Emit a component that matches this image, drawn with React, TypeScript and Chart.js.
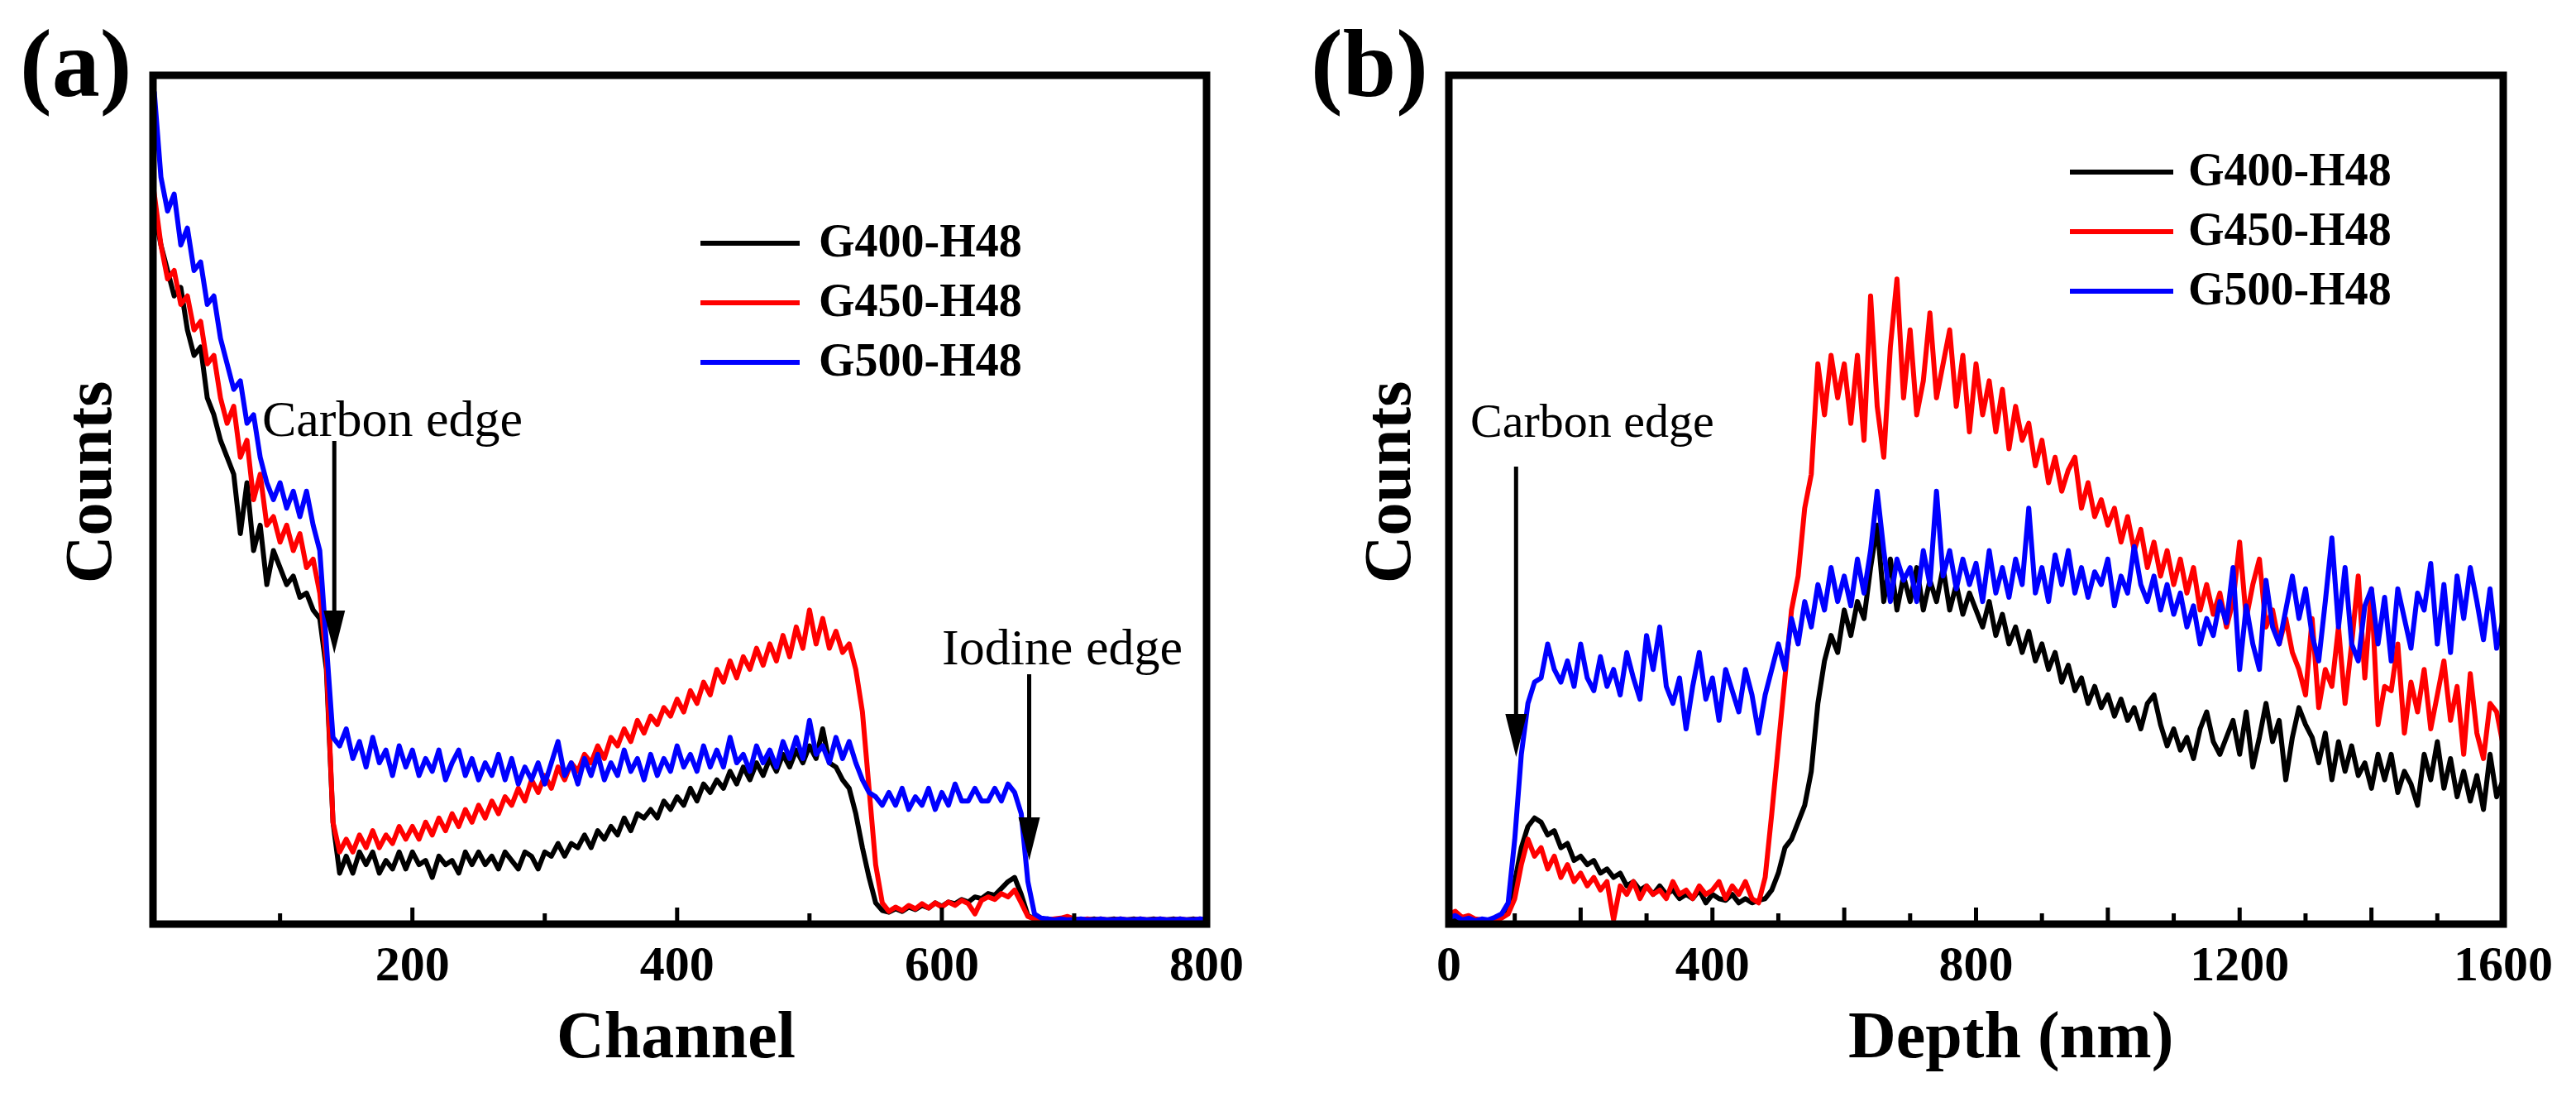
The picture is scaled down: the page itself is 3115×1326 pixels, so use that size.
import React, { useEffect, useRef } from 'react';
import { Chart, registerables } from 'chart.js';

Chart.register(...registerables);

// ---------------- data ----------------
const seriesNames = ['G400-H48', 'G450-H48', 'G500-H48'];
const seriesColors = ['#000000', '#ff0000', '#0000ff'];

// panel (a): channel 0..800, step 5
const channels = Array.from({ length: 161 }, (_, i) => i * 5);

const aG400 = [
  86, 84, 80, 77, 74, 75, 70, 67, 68, 62,
  60, 57, 55, 53, 46, 52, 44, 47, 40, 44,
  42, 40, 41, 38.5, 39, 37, 36, 30, 12, 6,
  8, 6, 8.5, 7, 8.5, 6, 7.5, 6.5, 8.5, 6.5,
  8.5, 7, 7.5, 5.5, 8, 7, 7.5, 6, 8.5, 7,
  8.5, 7, 8, 6.5, 8.5, 7.5, 6.5, 8.5, 8, 6.5,
  8.5, 8, 9.5, 8, 9.5, 9, 10.5, 9, 11, 10,
  11.5, 10.5, 12.5, 11, 13, 12.5, 13.5, 12.5, 14.5, 13.5,
  15, 14, 16, 14.5, 16.5, 15.5, 17, 16, 18, 16.5,
  18.5, 17, 19, 17.5, 19.5, 18, 20, 18.5, 20.5, 19,
  21, 19.5, 23, 19, 18.5, 17, 16, 13, 9, 5.5,
  2.5, 1.6, 1.4, 1.8, 1.5, 2, 1.7, 2.2, 1.9, 2.5,
  2.1, 2.6, 2.4, 2.9, 2.6, 3.2, 3, 3.6, 3.4, 4.2,
  5, 5.5, 3.5, 1, 0.6, 0.5, 0.6, 0.5, 0.6, 0.5,
  0.6, 0.5, 0.5, 0.6, 0.5, 0.5, 0.6, 0.5, 0.5, 0.6,
  0.5, 0.5, 0.6, 0.5, 0.5, 0.6, 0.5, 0.5, 0.6, 0.5,
  0.5,
];

const aG450 = [
  91, 86, 80, 76, 77, 73, 74, 70, 71, 66,
  67, 62, 59, 61, 55, 57, 50, 53, 47, 48,
  45, 47, 44, 46, 42, 43, 39, 31, 12, 8.5,
  10, 8.5, 10.5, 9, 11, 9, 10.5, 9.5, 11.5, 10,
  11.5, 10, 12, 10.5, 12.5, 11, 13, 11.5, 13.5, 12,
  14, 12.5, 14.5, 13, 15, 14, 16, 14.5, 17, 15.5,
  17.5, 16, 18.5, 17, 19, 18, 20, 19, 21, 19.5,
  22, 21, 23, 21.5, 24, 22.5, 24.5, 23.5, 25.5, 24.5,
  26.5, 25, 27.5, 26, 28.5, 27, 30, 28.5, 31, 29,
  31.5, 30, 32.5, 30.5, 33, 31, 34, 31.5, 35, 32.5,
  37, 33, 36, 32.5, 34.5, 32, 33, 30, 25, 16,
  7, 2.5, 1.5, 2, 1.6, 2.2, 1.8, 2.4, 1.9, 2.5,
  2, 2.6, 2.2, 2.8, 2.4, 1.2, 2.8, 3.2, 2.9, 3.6,
  3.2, 4, 2.5, 0.9, 0.6, 0.6, 0.5, 0.6, 0.7, 0.9,
  0.6, 0.5, 0.6, 0.5, 0.6, 0.5, 0.5, 0.6, 0.5, 0.5,
  0.6, 0.5, 0.5, 0.6, 0.5, 0.5, 0.6, 0.5, 0.5, 0.6,
  0.5,
];

const aG500 = [
  93, 98, 88, 84, 86, 80, 82, 77, 78, 73,
  74, 69, 66, 63, 64, 59, 60, 55, 52, 50,
  52, 49, 51, 48, 51, 47, 44, 33, 22, 21,
  23, 19.5, 21.5, 18.5, 22, 19, 20.5, 17.5, 21, 18.5,
  20.5, 17.5, 19.5, 18, 20.5, 17, 19, 20.5, 17.5, 19.5,
  17, 19, 17.5, 20, 17, 19.5, 16.5, 18.5, 17, 19,
  16.5, 19, 21.5, 17.5, 19, 16.5, 19.5, 17.5, 20, 17,
  19, 17.5, 20.5, 18, 19.5, 17, 20, 17.5, 19.5, 18,
  21, 18.5, 20, 18, 21, 18.5, 20.5, 18.5, 22, 19,
  20, 18, 21, 19, 20.5, 18.5, 21.5, 19.5, 22, 19.5,
  24, 20, 21, 19, 22, 19.5, 21.5, 19, 17, 15.5,
  15, 14, 15.5, 14, 16, 13.5, 15, 14, 16, 13.5,
  15.5, 14, 16.5, 14.5, 14.5, 16, 14.5, 14.5, 16, 14.5,
  16.5, 15.5, 13, 5, 1.2, 0.7, 0.6, 0.5, 0.6, 0.5,
  0.5, 0.6, 0.5, 0.5, 0.6, 0.5, 0.5, 0.6, 0.5, 0.5,
  0.6, 0.5, 0.5, 0.6, 0.5, 0.5, 0.6, 0.5, 0.5, 0.6,
  0.5,
];

// panel (b): depth 0..1600 nm, step 10
const depthNm = Array.from({ length: 161 }, (_, i) => i * 10);

const bG400 = [
  0.8, 0.6, 0.4, 0.7, 0.5, 0.4, 0.5, 0.6, 0.8, 1.5,
  5, 9, 11.5, 12.5, 12, 10.5, 11, 9, 9.5, 7.5,
  8, 7, 7.5, 6, 6.5, 5.5, 6, 4.5, 5, 4,
  4.5, 3.5, 4.5, 3.5, 4, 3, 3.5, 3, 4, 2.5,
  3.5, 3, 2.8, 3.5, 2.5, 3, 2.5, 2.8, 3, 4,
  6, 9, 10, 12, 14, 18, 26, 31, 34, 32,
  37, 34, 38, 36, 42, 47, 38, 43, 37, 41,
  38, 42, 37, 40.5, 38, 42, 37, 40, 36.5, 39,
  37, 35, 38, 34, 36.5, 33, 35, 32, 34.5, 31,
  33, 30, 32, 28.5, 30.5, 27.5, 29, 26, 28, 25.5,
  27, 24.5, 26.5, 24, 25.5, 23, 26, 27, 23.5, 21,
  23, 20.5, 22, 19.5, 23, 25, 21.5, 20, 22, 24,
  20, 25, 18.5, 22, 26, 21.5, 24, 17, 22, 25.5,
  23.5, 22, 19, 22.5, 17, 21.5, 18, 21, 17.5, 19,
  16, 20, 17, 20, 15.5, 18, 16.5, 14, 20, 17,
  21.5, 16, 19.5, 15, 18, 14.5, 17.5, 13.5, 20, 15,
  17,
];

const bG450 = [
  1.2, 1.5, 0.8, 1, 0.6, 0.5, 0.4, 0.5, 0.7, 1.2,
  3, 7, 10, 8, 9, 6.5, 8, 5.5, 7, 5,
  6, 4.5, 5.5, 4, 5, 0.5, 4.5, 3.5, 5, 3,
  4.5, 3.5, 4, 3, 5, 3.5, 4, 3, 4.5, 3.5,
  4, 5, 3, 4.5, 3.5, 5, 3, 2.5, 5.5, 13,
  21, 29, 37, 41, 49, 53, 66, 60, 67, 62,
  66, 59, 67, 57, 74, 61, 55, 68, 76, 62,
  70, 60, 64, 72, 62, 66, 70, 61, 67, 58,
  66, 60, 64, 58, 63, 56, 61, 57, 59, 54,
  57, 52, 55, 51, 53.5, 55, 49, 52, 48, 50,
  47, 49, 45, 48, 44, 46.5, 42, 45, 41, 44,
  40, 43, 39, 42, 37, 40, 36.5, 39, 35, 38,
  45, 36, 40, 43, 35, 37, 33, 36, 32, 30,
  27, 36, 25.5, 30, 28, 35, 26, 33, 41, 29,
  39.5, 23.5, 28, 27.5, 33, 22.5, 28.5, 25, 30, 23,
  27, 31, 24, 28, 20, 29.5, 22.5, 19.5, 26, 25,
  21,
];

const bG500 = [
  0.8, 1, 0.5, 0.7, 0.4, 0.6, 0.5, 0.8, 1.2, 2.5,
  10, 20, 26, 28.5, 29, 33, 30, 28.5, 31, 28,
  33, 29, 27.5, 31.5, 28, 30, 27, 32, 29, 26.5,
  34, 30, 35, 28, 26, 29, 23, 28, 32, 26.5,
  29, 24, 30, 27.5, 25, 30, 27, 22.5, 27, 30,
  33, 30, 36, 33, 38, 35, 40, 37, 42, 38,
  41, 37.5, 43, 39, 44, 51, 44, 38, 43, 40.5,
  42, 38, 44, 40, 51, 41, 44, 39.5, 43, 40,
  42.5, 38, 44, 39, 42, 38.5, 43, 40, 49, 39,
  42, 38, 43.5, 40, 44, 39, 42, 38.5, 41.5, 40,
  43, 37.5, 41, 39, 44.5, 40, 38, 41, 37, 40,
  36.5, 39, 35, 37.5, 33, 36, 34, 38, 35.5, 42,
  30, 37.5, 33, 30, 40.5, 35, 33, 37, 41, 36,
  39.5, 34, 31, 38, 45.5, 35, 42, 33, 31, 37.5,
  39.5, 33, 38.5, 31, 39.5, 36, 32.5, 39, 37, 42.5,
  33, 40, 32, 41, 36, 42, 38, 33.5, 39.5, 32.5,
  36,
];

// axis ticks
const labelTicksA = [200, 400, 600, 800];
const majorMarksA = [200, 400, 600];
const minorMarksA = [100, 300, 500, 700];
const labelTicksB = [0, 400, 800, 1200, 1600];
const majorMarksB = [200, 400, 600, 800, 1000, 1200, 1400];
const minorMarksB = [100, 300, 500, 700, 900, 1100, 1300, 1500];

// ---------------- layout / style ----------------
const PAGE_W = 3115;
const PAGE_H = 1326;
const SERIF = '"Liberation Serif", "Times New Roman", serif';

type Arrow = { v: number; y0: number; tip: number };
type Note = { text: string; x: number; y: number; size: number };

type PanelCfg = {
  canvasLeft: number;
  canvasW: number;
  areaLeft: number;
  areaRight: number;
  areaTop: number;
  areaBottom: number;
  xMin: number;
  xMax: number;
  xs: number[];
  series: number[][];
  labelTicks: number[];
  majorMarks: number[];
  minorMarks: number[];
  panelLabel: string;
  panelLabelX: number;
  xTitle: string;
  xTitleX: number;
  yTitleX: number;
  yTitleY: number;
  legendX0: number;
  legendX1: number;
  legendTextX: number;
  legendRows: number[];
  notes: Note[];
  arrows: Arrow[];
};

const panelA: PanelCfg = {
  canvasLeft: 0,
  canvasW: 1557,
  areaLeft: 185,
  areaRight: 1459,
  areaTop: 91,
  areaBottom: 1117,
  xMin: 4,
  xMax: 800,
  xs: channels,
  series: [aG400, aG450, aG500],
  labelTicks: labelTicksA,
  majorMarks: majorMarksA,
  minorMarks: minorMarksA,
  panelLabel: '(a)',
  panelLabelX: 24,
  xTitle: 'Channel',
  xTitleX: 673,
  yTitleX: 134,
  yTitleY: 583,
  legendX0: 847,
  legendX1: 967,
  legendTextX: 990,
  legendRows: [294, 366, 438],
  notes: [
    { text: 'Carbon edge', x: 317, y: 527, size: 62 },
    { text: 'Iodine edge', x: 1139, y: 803, size: 62 },
  ],
  arrows: [
    { v: 141, y0: 533, tip: 790 },
    { v: 666, y0: 815, tip: 1040 },
  ],
};

const panelB: PanelCfg = {
  canvasLeft: 1557,
  canvasW: 1558,
  areaLeft: 1752,
  areaRight: 3027,
  areaTop: 91,
  areaBottom: 1117,
  xMin: 0,
  xMax: 1600,
  xs: depthNm,
  series: [bG400, bG450, bG500],
  labelTicks: labelTicksB,
  majorMarks: majorMarksB,
  minorMarks: minorMarksB,
  panelLabel: '(b)',
  panelLabelX: 1585,
  xTitle: 'Depth (nm)',
  xTitleX: 2235,
  yTitleX: 1705,
  yTitleY: 583,
  legendX0: 2503,
  legendX1: 2628,
  legendTextX: 2646,
  legendRows: [208, 280, 352],
  notes: [{ text: 'Carbon edge', x: 1778, y: 528, size: 58 }],
  arrows: [{ v: 102, y0: 564, tip: 915 }],
};

function makeDecor(cfg: PanelCfg) {
  const ox = cfg.canvasLeft;
  return {
    id: 'decor',
    afterDraw(chart: any) {
      const ctx: CanvasRenderingContext2D = chart.ctx;
      const { left, right, top, bottom } = chart.chartArea;
      const xs = chart.scales.x;
      ctx.save();
      ctx.fillStyle = '#000';
      ctx.strokeStyle = '#000';

      // inward tick marks
      ctx.lineWidth = 5;
      ctx.lineCap = 'butt';
      const mark = (v: number, len: number) => {
        const px = xs.getPixelForValue(v);
        ctx.beginPath();
        ctx.moveTo(px, bottom);
        ctx.lineTo(px, bottom - len);
        ctx.stroke();
      };
      cfg.majorMarks.forEach((v) => mark(v, 20));
      cfg.minorMarks.forEach((v) => mark(v, 13));

      // frame
      ctx.lineWidth = 9;
      ctx.lineJoin = 'miter';
      ctx.strokeRect(left, top, right - left, bottom - top);

      // panel label
      ctx.textAlign = 'left';
      ctx.textBaseline = 'alphabetic';
      ctx.font = `bold 116px ${SERIF}`;
      ctx.fillText(cfg.panelLabel, cfg.panelLabelX - ox, 116);

      // x title
      ctx.font = `bold 80px ${SERIF}`;
      ctx.fillText(cfg.xTitle, cfg.xTitleX - ox, 1278);

      // y title
      ctx.save();
      ctx.translate(cfg.yTitleX - ox, cfg.yTitleY);
      ctx.rotate(-Math.PI / 2);
      ctx.textAlign = 'center';
      ctx.fillText('Counts', 0, 0);
      ctx.restore();

      // legend
      ctx.font = `bold 56px ${SERIF}`;
      ctx.textBaseline = 'middle';
      ctx.lineWidth = 6;
      chart.data.datasets.forEach((ds: any, i: number) => {
        const y = cfg.legendRows[i];
        ctx.strokeStyle = ds.borderColor;
        ctx.beginPath();
        ctx.moveTo(cfg.legendX0 - ox, y);
        ctx.lineTo(cfg.legendX1 - ox, y);
        ctx.stroke();
        ctx.fillStyle = '#000';
        ctx.fillText(ds.label, cfg.legendTextX - ox, y + 2);
      });

      // annotations
      ctx.textBaseline = 'alphabetic';
      cfg.notes.forEach((n) => {
        ctx.font = `${n.size}px ${SERIF}`;
        ctx.fillText(n.text, n.x - ox, n.y);
      });

      // arrows
      ctx.strokeStyle = '#000';
      ctx.fillStyle = '#000';
      ctx.lineWidth = 5;
      cfg.arrows.forEach((a) => {
        const px = xs.getPixelForValue(a.v);
        const headH = 52;
        const hw = 13;
        ctx.beginPath();
        ctx.moveTo(px, a.y0);
        ctx.lineTo(px, a.tip - headH + 2);
        ctx.stroke();
        ctx.beginPath();
        ctx.moveTo(px - hw, a.tip - headH);
        ctx.lineTo(px + hw, a.tip - headH);
        ctx.lineTo(px, a.tip);
        ctx.closePath();
        ctx.fill();
      });

      ctx.restore();
    },
  };
}

function Panel({ cfg }: { cfg: PanelCfg }) {
  const ref = useRef<HTMLCanvasElement>(null);
  useEffect(() => {
    const canvas = ref.current;
    if (!canvas) return;
    const chart = new Chart(canvas, {
      type: 'line',
      data: {
        datasets: cfg.series.map((s, i) => ({
          label: seriesNames[i],
          data: cfg.xs.map((xv, j) => ({ x: xv, y: s[j] })),
          borderColor: seriesColors[i],
          backgroundColor: seriesColors[i],
          borderWidth: 6,
          borderJoinStyle: 'round',
          pointRadius: 0,
          tension: 0,
          fill: false,
          order: 3 - i,
        })),
      },
      options: {
        responsive: false,
        animation: false,
        devicePixelRatio: 1,
        layout: {
          padding: {
            top: cfg.areaTop,
            right: cfg.canvasLeft + cfg.canvasW - cfg.areaRight,
            left: 0,
            bottom: 0,
          },
        },
        plugins: {
          legend: { display: false },
          tooltip: { enabled: false },
          title: { display: false },
        },
        scales: {
          x: {
            type: 'linear',
            min: cfg.xMin,
            max: cfg.xMax,
            afterFit: (s: any) => {
              s.height = PAGE_H - cfg.areaBottom;
            },
            afterBuildTicks: (s: any) => {
              s.ticks = cfg.labelTicks.map((v) => ({ value: v }));
            },
            grid: { display: false, drawTicks: false },
            border: { display: false },
            ticks: {
              color: '#000',
              font: { family: SERIF, size: 60, weight: 'bold' },
              padding: 16,
              maxRotation: 0,
              autoSkip: false,
              callback: (v: any) => String(v),
            },
          },
          y: {
            type: 'linear',
            min: 0,
            max: 100,
            afterFit: (s: any) => {
              s.width = cfg.areaLeft - cfg.canvasLeft;
            },
            grid: { display: false, drawTicks: false },
            border: { display: false },
            ticks: { display: false },
          },
        },
      } as any,
      plugins: [makeDecor(cfg)],
    });
    return () => chart.destroy();
  }, [cfg]);
  return (
    <canvas
      ref={ref}
      width={cfg.canvasW}
      height={PAGE_H}
      style={{
        position: 'absolute',
        left: cfg.canvasLeft,
        top: 0,
        width: cfg.canvasW,
        height: PAGE_H,
      }}
    />
  );
}

export default function App() {
  return (
    <div
      style={{
        position: 'absolute',
        left: 0,
        top: 0,
        width: PAGE_W,
        height: PAGE_H,
        background: '#fff',
        overflow: 'hidden',
      }}
    >
      <Panel cfg={panelA} />
      <Panel cfg={panelB} />
    </div>
  );
}
